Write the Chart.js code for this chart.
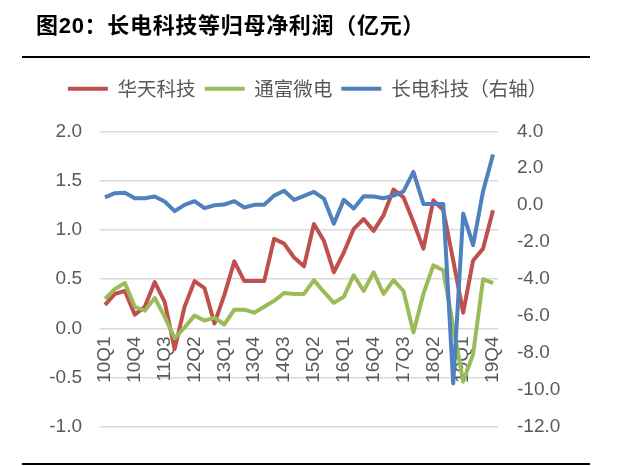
<!DOCTYPE html>
<html lang="zh">
<head>
<meta charset="UTF-8">
<title>长电科技等归母净利润</title>
<script src="https://cdn.jsdelivr.net/npm/chart.js"></script>
<style>
  body { margin: 0; background: #fff; }
  #wrap { position: relative; width: 640px; height: 466px; }
  #title { position: absolute; left: 36px; top: 7px; line-height: 28px; font: bold 22px "Liberation Sans", "Noto Sans CJK SC", sans-serif; letter-spacing: 0.7px; color: #000; white-space: nowrap; }
  .rule { position: absolute; left: 22px; width: 568px; height: 0; border-top: 2px solid #000; }
  canvas { position: absolute; left: 0; top: 0; }
</style>
</head>
<body>
<div id="wrap">
  <canvas id="profitChart" width="640" height="466"></canvas>
  <div id="title">图20：长电科技等归母净利润（亿元）</div>
  <div class="rule" style="top:56px"></div>
  <div class="rule" style="top:463px"></div>
</div>
<script>
// quarters, 10Q1 .. 19Q4
const quarters = [
  '10Q1','10Q2','10Q3','10Q4','11Q1','11Q2','11Q3','11Q4',
  '12Q1','12Q2','12Q3','12Q4','13Q1','13Q2','13Q3','13Q4',
  '14Q1','14Q2','14Q3','14Q4','15Q1','15Q2','15Q3','15Q4',
  '16Q1','16Q2','16Q3','16Q4','17Q1','17Q2','17Q3','17Q4',
  '18Q1','18Q2','18Q3','18Q4','19Q1','19Q2','19Q3','19Q4'
];
const shownTicks = ['10Q1','10Q4','11Q3','12Q2','13Q1','13Q4','14Q3','15Q2','16Q1','16Q4','17Q3','18Q2','19Q1','19Q4'];

// 亿元, left axis
const huatian = [
  0.24, 0.35, 0.38, 0.14, 0.22, 0.47, 0.27, -0.21,
  0.22, 0.48, 0.41, 0.05, 0.34, 0.68, 0.48, 0.48,
  0.48, 0.91, 0.86, 0.72, 0.63, 1.06, 0.89, 0.57,
  0.77, 1.01, 1.11, 0.99, 1.15, 1.41, 1.33, 1.08,
  0.81, 1.30, 1.20, 0.69, 0.16, 0.69, 0.81, 1.20
];
const tongfu = [
  0.30, 0.40, 0.46, 0.22, 0.18, 0.31, 0.12, -0.10,
  0.01, 0.13, 0.08, 0.11, 0.04, 0.19, 0.19, 0.16,
  0.22, 0.28, 0.36, 0.35, 0.35, 0.49, 0.37, 0.26,
  0.32, 0.54, 0.38, 0.57, 0.35, 0.49, 0.38, -0.04,
  0.35, 0.64, 0.59, 0.02, -0.54, -0.26, 0.50, 0.46
];
// right axis
const changdian = [
  0.42, 0.65, 0.67, 0.38, 0.38, 0.47, 0.20, -0.32,
  0.02, 0.22, -0.16, 0.00, 0.04, 0.22, -0.12, 0.02,
  0.03, 0.52, 0.78, 0.29, 0.50, 0.72, 0.36, -1.00,
  0.29, -0.18, 0.49, 0.47, 0.38, 0.52, 0.75, 1.80,
  0.07, 0.07, 0.07, -9.64, -0.45, -2.16, 0.76, 2.74
];

Chart.defaults.font.family = '"Liberation Sans", "Noto Sans CJK SC", sans-serif';
Chart.defaults.color = '#595959';

const ctx = document.getElementById('profitChart').getContext('2d');
const profitChart = new Chart(ctx, {
  type: 'line',
  data: {
    labels: quarters,
    datasets: [
      { label: '华天科技', data: huatian, borderColor: '#C0504D', backgroundColor: '#C0504D', yAxisID: 'y', order: 2 },
      { label: '通富微电', data: tongfu, borderColor: '#9BBB59', backgroundColor: '#9BBB59', yAxisID: 'y', order: 1 },
      { label: '长电科技（右轴）', data: changdian, borderColor: '#4F81BD', backgroundColor: '#4F81BD', yAxisID: 'y1', order: 0 }
    ]
  },
  options: {
    responsive: false,
    animation: false,
    elements: {
      line: { borderWidth: 4, tension: 0, borderJoinStyle: 'round' },
      point: { radius: 0 }
    },
    layout: { padding: { top: 70, right: 25, bottom: 39, left: 0 } },
    plugins: {
      legend: {
        position: 'top',
        weight: 3000,   // keep legend above the spacer title
        labels: {
          boxWidth: 40,
          boxHeight: 4,
          padding: 9,
          color: '#595959',
          font: { size: 19.5, family: '"Noto Sans CJK SC", sans-serif' },
          sort: (a, b) => a.datasetIndex - b.datasetIndex,
          generateLabels: chart => Chart.defaults.plugins.legend.labels.generateLabels(chart)
            .map(item => Object.assign(item, { lineWidth: 0, fillStyle: item.strokeStyle }))
        }
      },
      // empty title used only as a gap between legend and plot
      title: { display: true, text: '', padding: 0, font: { size: 19 } },
      tooltip: { enabled: false }
    },
    scales: {
      x: {
        position: { y: 0 },
        offset: true,
        grid: { display: false },
        border: { display: false },
        ticks: {
          autoSkip: false,
          minRotation: 90,
          maxRotation: 90,
          padding: 0,
          font: { size: 19 },
          callback: function (value) {
            const label = this.getLabelForValue(value);
            return shownTicks.includes(label) ? label : '';
          }
        }
      },
      y: {
        position: 'left',
        min: -1,
        max: 2,
        ticks: { stepSize: 0.5, padding: 18, font: { size: 19 }, callback: v => v.toFixed(1) },
        grid: { color: '#d9d9d9', lineWidth: 1.5, drawTicks: false },
        border: { display: false },
        afterFit: scale => { scale.width = 100; }
      },
      y1: {
        position: 'right',
        min: -12,
        max: 4,
        ticks: { stepSize: 2, padding: 19, font: { size: 19 }, callback: v => v.toFixed(1) },
        grid: { display: false, drawTicks: false },
        border: { display: false },
        afterFit: scale => { scale.width = 117; }
      }
    }
  }
});
</script>
</body>
</html>
